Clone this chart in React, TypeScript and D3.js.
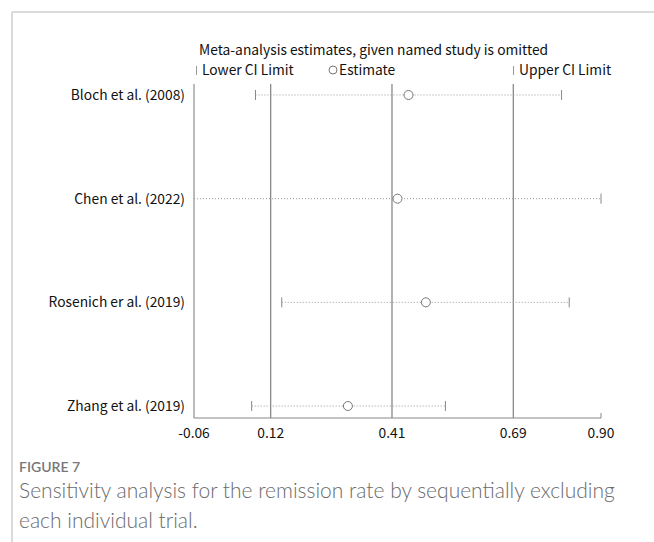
import React from "react";
import * as d3 from "d3";

const studies = ["Bloch et al. (2008)", "Chen et al. (2022)", "Rosenich er al. (2019)", "Zhang et al. (2019)"];
const lowerCI = [0.085, -0.06, 0.147, 0.076];
const estimates = [0.446, 0.42, 0.487, 0.303];
const upperCI = [0.807, 0.9, 0.825, 0.533];
const tickValues = [-0.06, 0.121, 0.407, 0.693, 0.9];
const tickLabels = ["-0.06", "0.12", "0.41", "0.69", "0.90"];
const refLines = [0.121, 0.407, 0.693];

const W = 654;
const H = 542;
const chartFont = "'Noto Sans CJK SC', 'Noto Sans', sans-serif";
const capFont = "Lato, 'Open Sans', sans-serif";
const fs = 13.8;

export default function App() {
  const x = d3.scaleLinear().domain([-0.06, 0.9]).range([194, 601]);
  const y = d3.scalePoint<string>().domain(studies).range([95, 406]);
  const top = 84;
  const axisY = 418;

  return (
    <svg width={W} height={H} style={{ position: "absolute", left: 0, top: 0 }}>
      <rect x={0} y={0} width={W} height={H} fill="#fff" />
      {/* frame */}
      <line x1={12} y1={12} x2={W} y2={12} stroke="#cfcfcf" strokeWidth={1.5} />
      <line x1={12} y1={12} x2={12} y2={H} stroke="#cfcfcf" strokeWidth={1.5} />

      {/* title & legend */}
      <text x={199} y={55} fontFamily={chartFont} fontSize={fs} fill="#111">
        Meta-analysis estimates, given named study is omitted
      </text>
      <line x1={196.5} y1={66} x2={196.5} y2={75} stroke="#999" />
      <text x={202} y={75} fontFamily={chartFont} fontSize={fs} fill="#111">Lower CI Limit</text>
      <circle cx={333} cy={70} r={4} fill="none" stroke="#777" />
      <text x={339} y={75} fontFamily={chartFont} fontSize={fs} fill="#111">Estimate</text>
      <line x1={513.5} y1={66} x2={513.5} y2={75} stroke="#999" />
      <text x={519} y={75} fontFamily={chartFont} fontSize={fs} fill="#111">Upper CI Limit</text>

      {/* reference lines */}
      {refLines.map((v, i) => (
        <line key={"r" + i} x1={x(v)} x2={x(v)} y1={top} y2={axisY} stroke="#666" strokeWidth={1} />
      ))}
      {/* left axis */}
      <line x1={x(-0.06)} x2={x(-0.06)} y1={top} y2={axisY} stroke="#777" strokeWidth={1} />
      {/* bottom axis */}
      <line x1={x(-0.06)} x2={x(0.9)} y1={axisY} y2={axisY} stroke="#888" strokeWidth={1} />
      <line x1={x(0.9)} x2={x(0.9)} y1={axisY - 5} y2={axisY} stroke="#888" strokeWidth={1} />
      {tickValues.map((v, i) => (
        <text key={"t" + i} x={x(v)} y={438} textAnchor="middle" fontFamily={chartFont} fontSize={fs} fill="#111">
          {tickLabels[i]}
        </text>
      ))}

      {/* studies */}
      {studies.map((s, i) => {
        const yy = y(s)!;
        return (
          <g key={s}>
            <text x={185} y={yy + 5} textAnchor="end" fontFamily={chartFont} fontSize={fs} fill="#111">{s}</text>
            <line x1={x(lowerCI[i])} x2={x(upperCI[i])} y1={yy} y2={yy} stroke="#999" strokeDasharray="1,2" />
            {lowerCI[i] > -0.06 && (
              <line x1={x(lowerCI[i])} x2={x(lowerCI[i])} y1={yy - 5} y2={yy + 5} stroke="#888" />
            )}
            <line x1={x(upperCI[i])} x2={x(upperCI[i])} y1={yy - 5} y2={yy + 5} stroke="#888" />
            <circle cx={x(estimates[i])} cy={yy} r={4.5} fill="#fff" stroke="#777" />
          </g>
        );
      })}

      {/* caption */}
      <text x={19} y={472} fontFamily={capFont} fontSize={14} fontWeight={600} fill="#777">FIGURE 7</text>
      <text x={19} y={498} fontFamily={capFont} fontSize={21} fontWeight={300} fill="#6a6a6a">
        Sensitivity analysis for the remission rate by sequentially excluding
      </text>
      <text x={19} y={528} fontFamily={capFont} fontSize={21} fontWeight={300} fill="#6a6a6a">
        each individual trial.
      </text>
    </svg>
  );
}
